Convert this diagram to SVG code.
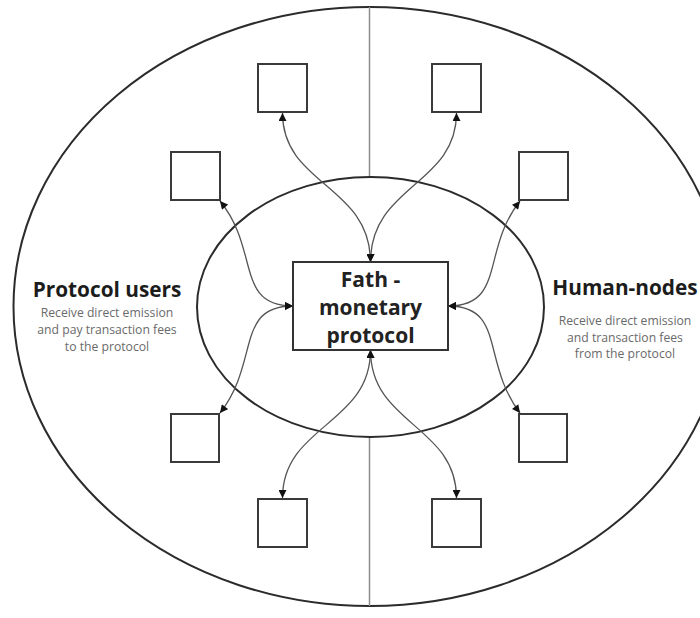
<svg xmlns="http://www.w3.org/2000/svg" width="700" height="618" viewBox="0 0 700 618">
<style>
.ring{fill:none;stroke:#2b2b2b;stroke-width:2}
.divider{stroke:#8c8c8c;stroke-width:1.5;fill:none}
.sq{fill:#fff;stroke:#3a3a3a;stroke-width:2}
.core{fill:#fff;stroke:#333;stroke-width:2}
.conn{fill:none;stroke:#555;stroke-width:1.3;marker-start:url(#ah);marker-end:url(#ah)}
.title{font-family:"Open Sans","Liberation Sans",sans-serif;font-weight:bold;font-size:20.8px;fill:#1c1c1c;text-anchor:middle}
.sub{font-family:"Open Sans","Liberation Sans",sans-serif;font-size:12.2px;fill:#6a6a6a;text-anchor:middle}
.coretxt{font-family:"Open Sans","Liberation Sans",sans-serif;font-weight:bold;font-size:21px;fill:#222;text-anchor:middle}
</style>
<defs>
<marker id="ah" viewBox="0 0 10 10" refX="10" refY="5" markerWidth="9" markerHeight="8" markerUnits="userSpaceOnUse" orient="auto-start-reverse">
<path d="M0,0 L10,5 L0,10 z" fill="#111"/>
</marker>
</defs>
<rect width="700" height="618" fill="#fff"/>
<g id="outer">
<ellipse class="ring" cx="369.5" cy="306.5" rx="356" ry="299.5"/>
</g>
<g id="divider">
<line class="divider" x1="369.5" y1="7" x2="369.5" y2="177"/>
<line class="divider" x1="369.5" y1="437" x2="369.5" y2="606"/>
</g>
<g id="inner">
<ellipse class="ring" cx="370.5" cy="307" rx="173.5" ry="130"/>
</g>
<g id="connectors">
<path class="conn" d="M282.5,113 C282.5,185 370.5,185 370.5,262"/>
<path class="conn" d="M456.5,113 C456.5,185 370.5,185 370.5,262"/>
<path class="conn" d="M220,201 C260,250 235,306 293,306"/>
<path class="conn" d="M220,413 C260,362 235,306 293,306"/>
<path class="conn" d="M520,201 C481,250 506,306 448,306"/>
<path class="conn" d="M520,413 C481,362 506,306 448,306"/>
<path class="conn" d="M282.5,498 C282.5,425 370.5,425 370.5,350"/>
<path class="conn" d="M456.5,498 C456.5,425 370.5,425 370.5,350"/>
</g>
<g id="core">
<rect class="core" x="293" y="262" width="155" height="88"/>
<text class="coretxt" x="370.5" y="287">Fath -</text>
<text class="coretxt" x="370.5" y="315">monetary</text>
<text class="coretxt" x="370.5" y="343">protocol</text>
</g>
<g id="node-tl"><rect class="sq" x="258" y="64" width="49" height="48"/></g>
<g id="node-tr"><rect class="sq" x="432" y="64" width="49" height="48"/></g>
<g id="node-lu"><rect class="sq" x="171" y="152" width="49" height="48"/></g>
<g id="node-ru"><rect class="sq" x="519" y="152" width="49" height="48"/></g>
<g id="node-ll"><rect class="sq" x="171" y="414" width="48" height="48"/></g>
<g id="node-rl"><rect class="sq" x="519" y="414" width="48" height="48"/></g>
<g id="node-bl"><rect class="sq" x="258" y="499" width="49" height="48"/></g>
<g id="node-br"><rect class="sq" x="432" y="499" width="49" height="48"/></g>
<g id="label-users">
<text class="title" x="107" y="297">Protocol users</text>
<text class="sub" x="107" y="317">Receive direct emission</text>
<text class="sub" x="107" y="334">and pay transaction fees</text>
<text class="sub" x="107" y="351">to the protocol</text>
</g>
<g id="label-nodes">
<text class="title" x="625" y="295">Human-nodes</text>
<text class="sub" x="625" y="325">Receive direct emission</text>
<text class="sub" x="625" y="342">and transaction fees</text>
<text class="sub" x="625" y="358">from the protocol</text>
</g>
</svg>
